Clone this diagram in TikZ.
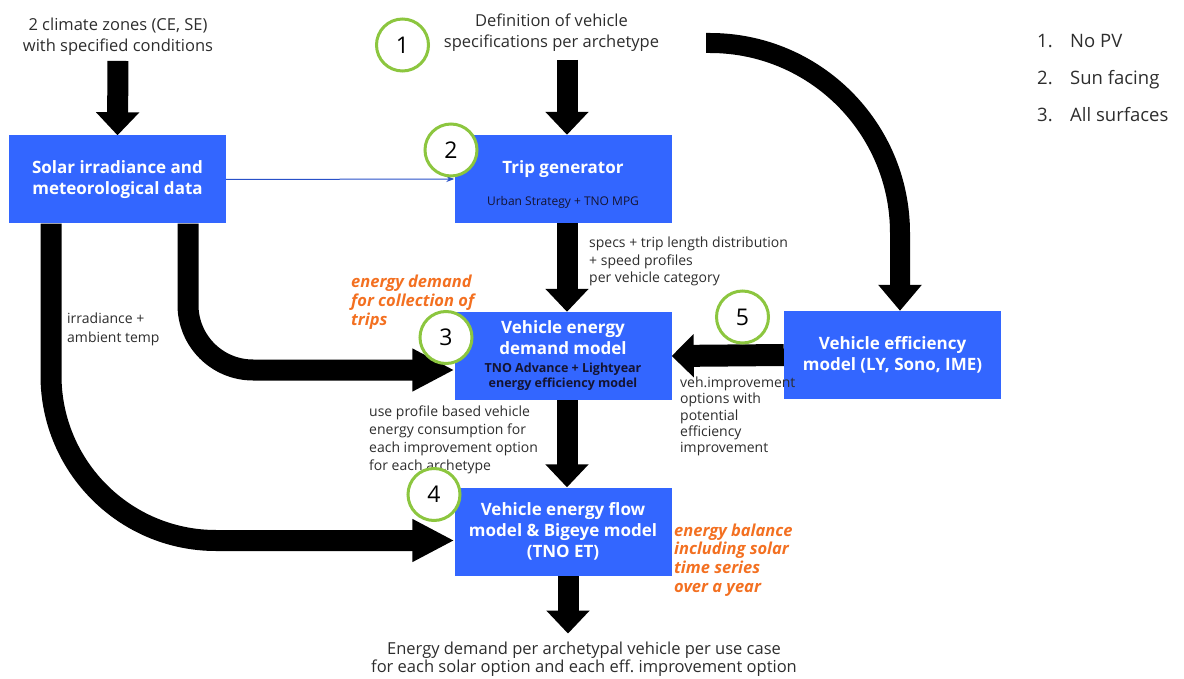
\documentclass[tikz,border=0pt]{standalone}
\usepackage{fontspec}
\setmainfont{Open Sans}
\usetikzlibrary{arrows.meta,backgrounds}
\definecolor{boxblue}{RGB}{51,102,255}
\definecolor{ringgreen}{RGB}{140,198,63}
\definecolor{accent}{RGB}{243,112,33}
\definecolor{ink}{RGB}{45,45,45}
\definecolor{linkblue}{RGB}{40,80,200}
\definecolor{subink}{RGB}{20,20,50}
\newcommand{\fsz}[2]{\fontsize{#1}{#2}\selectfont}

\begin{document}
\begin{tikzpicture}[x=1pt,y=-1pt,
  procbox/.style={rectangle, fill=boxblue, minimum width=217pt, minimum height=88pt,
    inner sep=0pt, align=center, text=white, font=\fsz{17}{21}\bfseries},
  ring/.style={circle, draw=ringgreen, line width=3pt, fill=white, minimum size=52pt,
    inner sep=0pt, font=\fsz{23}{23}, text=black},
  plain/.style={inner sep=0pt, text=ink, align=center},
  note/.style={inner sep=0pt, text=ink, align=left},
  remark/.style={inner sep=0pt, text=accent, align=left, font=\fsz{16.5}{19}\bfseries\itshape},
  fatv/.style={line width=21pt, -{Triangle[length=23pt,width=42pt]}},
  fath/.style={line width=21pt, -{Triangle[length=42pt,width=40pt]}},
]
\useasboundingbox (0,0) rectangle (1184,679);

% input texts
\node[plain, font=\fsz{16.5}{21}] (climate) at (118,37) {2 climate zones (CE, SE)\\with specified conditions};
\node[plain, font=\fsz{16.5}{21}] (spec) at (551.5,33) {Definition of vehicle\\specifications per archetype};

% process boxes
\node[procbox] (solar) at (117.5,179.5) {Solar irradiance and\\meteorological data};
\node[procbox] (trip) at (563,179) {\raisebox{-6pt}[\height][\depth]{\begin{tabular}{@{}c@{}}Trip generator\\[11pt]
  {\color{subink}\fsz{12}{15}\mdseries Urban Strategy + TNO MPG}\end{tabular}}};
\node[procbox] (demand) at (563,356) {Vehicle energy\\demand model\\[-3pt]
  {\color{subink}\fsz{12.5}{16}TNO Advance + Lightyear}\\[-6pt]
  {\color{subink}\fsz{12.5}{16}energy efficiency model}};
\node[procbox] (flow) at (563,531.5) {Vehicle energy flow\\model \& Bigeye model\\(TNO ET)};
\node[procbox] (eff) at (892.5,355) {Vehicle efficiency\\model (LY, Sono, IME)};

% output text
\node[plain, font=\fsz{16.5}{18}] (result) at (584,659) {Energy demand per archetypal vehicle per use case\\for each solar option and each eff.\ improvement option};

% annotations
\node[note, font=\fsz{14}{17.5}, anchor=west] (specslbl) at (589,261.5) {specs + trip length distribution\\+ speed profiles\\per vehicle category};
\node[note, font=\fsz{14}{19}, anchor=west] (irrlbl) at (67,329.5) {irradiance +\\ambient temp};
\node[note, font=\fsz{14}{18}, anchor=west] (uselbl) at (369,440) {use profile based vehicle\\energy consumption for\\each improvement option\\for each archetype};
\node[note, font=\fsz{14}{16.3}, anchor=west] (vehlbl) at (680,416.5) {veh.improvement\\options with\\potential\\efficiency\\improvement};
\node[remark, anchor=west] (demandnote) at (351,302) {energy demand\\for collection of\\trips};
\node[remark, font=\fsz{16.5}{18.7}\bfseries\itshape, anchor=west] (balancenote) at (674,560) {energy balance\\including solar\\time series\\over a year};

% solar options
\node[inner sep=0pt, text=ink, font=\fsz{18.5}{20}, anchor=base west] (opt1) at (1037,48) {\makebox[33pt][l]{1.}No PV};
\node[inner sep=0pt, text=ink, font=\fsz{18.5}{20}, anchor=base west] (opt2) at (1037,85) {\makebox[33pt][l]{2.}Sun facing};
\node[inner sep=0pt, text=ink, font=\fsz{18.5}{20}, anchor=base west] (opt3) at (1037,122) {\makebox[33pt][l]{3.}All surfaces};

\coordinate (arcstart) at (706,43);

% connectors
\begin{scope}[on background layer]
  \draw[fatv, shorten <=5pt] (climate.south) -- (solar.north);
  \draw[fatv, shorten <=8pt] ([xshift=4pt]trip.north |- spec.south) -- ([xshift=4pt]trip.north);
  \draw[fatv] ([xshift=4pt]trip.south) -- ([xshift=4pt]demand.north);
  \draw[fatv] ([xshift=4pt]demand.south) -- ([xshift=4pt]flow.north);
  \draw[fatv, shorten >=8pt] ([xshift=5pt]flow.south) -- ([xshift=5pt]flow.south |- result.north);
  \draw[line width=20pt, rounded corners=190pt, -{Triangle[length=26pt,width=42pt]}]
    (arcstart) -| ([xshift=7.5pt]eff.north);
  \draw[line width=22pt, -{Triangle[length=22pt,width=42pt]}] (eff.west) -- (demand.east);
  \draw[fath, rounded corners=65pt] ([xshift=70.5pt]solar.south) |- ([yshift=-14pt]demand.west);
  \draw[fath, rounded corners=165pt] ([xshift=-66.5pt]solar.south) |- ([yshift=-9pt]flow.west);
  \draw[linkblue, line width=1pt, -{Stealth[length=8pt,width=6pt]}] (solar.east) -- (trip.west);
\end{scope}

% step markers
\node[ring] (r1) at (402.5,45) {1};
\node[ring] (r2) at (451,150) {2};
\node[ring] (r3) at (446,337.5) {3};
\node[ring] (r4) at (434,494.5) {4};
\node[ring] (r5) at (742.5,317) {5};
\end{tikzpicture}
\end{document}
